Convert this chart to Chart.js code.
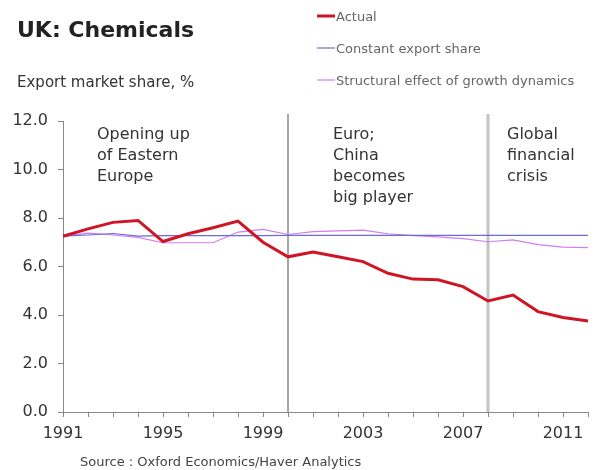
<!DOCTYPE html>
<html>
<head>
<meta charset="utf-8">
<script src="https://cdn.jsdelivr.net/npm/chart.js@4/dist/chart.umd.min.js"></script>
<style>
  body { margin: 0; background: #fff; }
  #wrap { width: 595px; height: 470px; }
</style>
</head>
<body>
<div id="wrap"><canvas id="shareChart" width="595" height="470"></canvas></div>
<script>
// Years on the x axis
const years = ['1991', '1992', '1993', '1994', '1995', '1996', '1997', '1998', '1999', '2000', '2001',
               '2002', '2003', '2004', '2005', '2006', '2007', '2008', '2009', '2010', '2011', '2012'];

// Export market share, %
const actual = [7.25, 7.55, 7.82, 7.9, 7.03, 7.35, 7.6, 7.87, 7.0, 6.4, 6.6,
                6.4, 6.2, 5.72, 5.48, 5.45, 5.17, 4.58, 4.82, 4.14, 3.9, 3.75];
const constantShare = [7.25, 7.3, 7.36, 7.25, 7.27, 7.27, 7.27, 7.27, 7.27, 7.28, 7.28,
                       7.28, 7.28, 7.28, 7.28, 7.28, 7.28, 7.28, 7.28, 7.28, 7.28, 7.28];
const structural = [7.25, 7.38, 7.3, 7.2, 6.98, 6.98, 6.98, 7.42, 7.53, 7.32, 7.44,
                    7.47, 7.5, 7.35, 7.27, 7.22, 7.15, 7.02, 7.1, 6.9, 6.8, 6.78];

const seriesNames = ['Actual', 'Constant export share', 'Structural effect of growth dynamics'];
const yTicks = [0, 2, 4, 6, 8, 10, 12];

// Period markers and their notes
const markerYears = ['2000', '2008'];
const notes = [
    { year: '1991', dx: 34, lines: ['Opening up', 'of Eastern', 'Europe'] },
    { year: '2000', dx: 45, lines: ['Euro;', 'China', 'becomes', 'big player'] },
    { year: '2008', dx: 19, lines: ['Global', 'financial', 'crisis'] }
];

const FONT = '"DejaVu Sans", "Liberation Sans", Arial, sans-serif';

const decorations = {
    id: 'decorations',
    beforeDatasetsDraw(chart) {
        const { ctx, chartArea, scales } = chart;
        ctx.save();
        markerYears.forEach((yr, i) => {
            const x = scales.x.getPixelForValue(years.indexOf(yr));
            ctx.beginPath();
            ctx.strokeStyle = i === 0 ? '#8a8a8a' : '#c4c4c4';
            ctx.lineWidth = i === 0 ? 1.5 : 3;
            ctx.moveTo(x, chartArea.top - 7);
            ctx.lineTo(x, chartArea.bottom);
            ctx.stroke();
        });
        ctx.restore();
    },
    afterDraw(chart) {
        const { ctx, scales } = chart;
        ctx.save();
        ctx.textBaseline = 'alphabetic';
        ctx.textAlign = 'left';

        // title + subtitle
        ctx.fillStyle = '#222';
        ctx.font = 'bold 22px ' + FONT;
        ctx.fillText('UK: Chemicals', 17, 37);
        ctx.fillStyle = '#333';
        ctx.font = '15px ' + FONT;
        ctx.fillText('Export market share, %', 17, 87);

        // legend, one entry per row
        ctx.font = '13px ' + FONT;
        chart.data.datasets.forEach((ds, i) => {
            const y = 16 + i * 32;
            ctx.beginPath();
            ctx.strokeStyle = ds.borderColor;
            ctx.lineWidth = ds.borderWidth;
            ctx.moveTo(317, y);
            ctx.lineTo(335, y);
            ctx.stroke();
            ctx.fillStyle = '#666';
            ctx.fillText(ds.label, 336, y + 5);
        });

        // notes inside the plot
        ctx.fillStyle = '#333';
        ctx.font = '16px ' + FONT;
        notes.forEach(n => {
            const x = scales.x.getPixelForValue(years.indexOf(n.year)) + n.dx;
            n.lines.forEach((t, j) => ctx.fillText(t, x, 139 + j * 21));
        });

        // source
        ctx.fillStyle = '#444';
        ctx.font = '13px ' + FONT;
        ctx.fillText('Source : Oxford Economics/Haver Analytics', 80, 466);
        ctx.restore();
    }
};

const ctx = document.getElementById('shareChart').getContext('2d');
const shareChart = new Chart(ctx, {
    type: 'line',
    data: {
        labels: years,
        datasets: [
            { label: seriesNames[0], data: actual, borderColor: '#cf1424', borderWidth: 3 },
            { label: seriesNames[1], data: constantShare, borderColor: '#6a6ad8', borderWidth: 1.2 },
            { label: seriesNames[2], data: structural, borderColor: '#d27cf2', borderWidth: 1.2 }
        ]
    },
    options: {
        responsive: false,
        animation: false,
        layout: { padding: { top: 121, left: 0, right: 3, bottom: 28 } },
        elements: {
            point: { radius: 0 },
            line: { tension: 0, fill: false }
        },
        plugins: {
            legend: { display: false },
            tooltip: { enabled: false }
        },
        scales: {
            x: {
                offset: false,
                afterFit(scale) { scale.height = 30; },
                grid: { drawOnChartArea: false, tickLength: 5, color: '#888' },
                border: { color: '#888' },
                ticks: {
                    autoSkip: false,
                    maxRotation: 0,
                    padding: 7,
                    color: '#333',
                    font: { family: FONT, size: 16 },
                    callback: (val, i) => (i % 4 === 0 ? years[i] : '')
                }
            },
            y: {
                min: 0,
                max: 12,
                afterFit(scale) { scale.width = 63; },
                afterBuildTicks(scale) { scale.ticks = yTicks.map(v => ({ value: v })); },
                grid: { drawOnChartArea: false, tickLength: 5, color: '#888' },
                border: { color: '#888' },
                ticks: {
                    padding: 10,
                    color: '#333',
                    font: { family: FONT, size: 16 },
                    callback: v => v.toFixed(1)
                }
            }
        }
    },
    plugins: [decorations]
});
</script>
</body>
</html>
